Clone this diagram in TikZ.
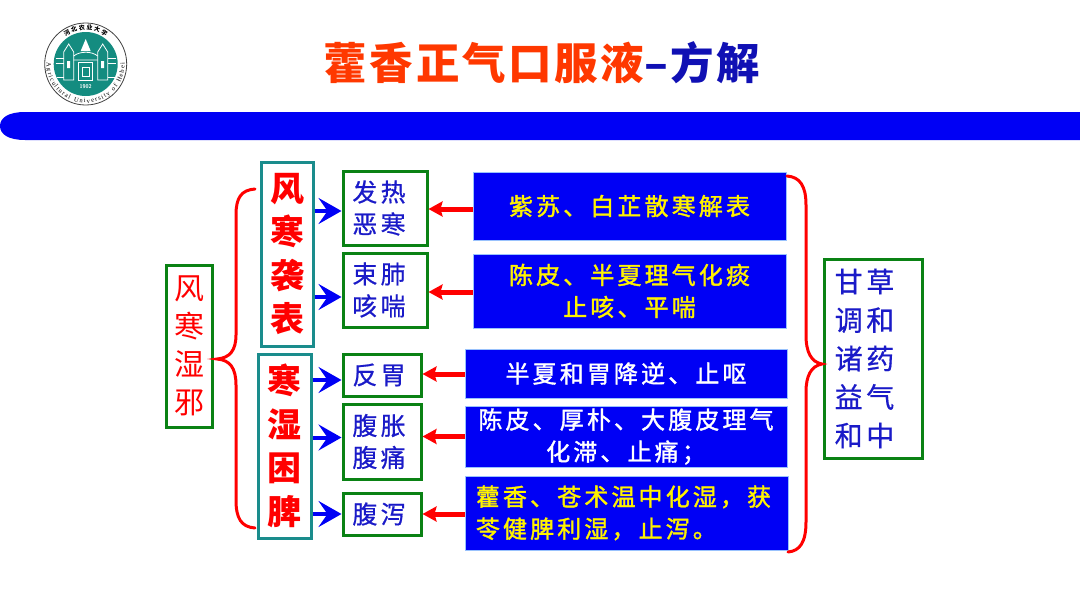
\documentclass[tikz,border=0pt]{standalone}
\usepackage{fontspec}
\usepackage{xcolor}
\usetikzlibrary{positioning,arrows.meta,decorations.text}
\newfontfamily\cjkplain{Noto Sans CJK SC}
\newfontfamily\cjkwide[LetterSpace=13,FakeBold=0.6]{Noto Sans CJK SC}
\newfontfamily\cjkherb[LetterSpace=13,FakeBold=1.5]{Noto Sans CJK SC}
\newfontfamily\cjktitle[LetterSpace=6]{Noto Sans CJK SC Black}
\newfontfamily\sealfont{Liberation Serif}
\newcommand{\rpad}[1]{\hspace*{#1pt}}
\definecolor{barblue}{HTML}{0000F5}
\definecolor{boxgreen}{HTML}{0A8214}
\definecolor{boxteal}{HTML}{1A8C8C}
\definecolor{inkblue}{HTML}{1A1AC8}
\definecolor{titlered}{HTML}{FF3800}
\definecolor{titleblue}{HTML}{1010B4}
\definecolor{sealteal}{HTML}{148C80}
\tikzset{
  greenbox/.style={draw=boxgreen,line width=3pt,fill=white,inner sep=0pt,align=center},
  tealbox/.style={draw=boxteal,line width=3pt,fill=white,inner sep=0pt,align=center,text=red,
    font=\cjkplain\bfseries\fontsize{34}{43.5}\selectfont},
  symptom/.style={greenbox,text=inkblue,font=\cjkwide\fontsize{25}{32}\selectfont},
  herbbox/.style={fill=barblue,draw=barblue!60!cyan!40,line width=0.6pt,inner sep=0pt,align=center,
    font=\cjkherb\fontsize{24}{32}\selectfont},
  bluearrow/.style={draw=barblue,line width=4pt,-{Stealth[length=23pt,width=26pt,inset=9pt]}},
  redarrow/.style={draw=red,line width=5pt,-{Stealth[length=14pt,width=15pt,inset=2pt]}},
  bracket/.style={draw=red,line width=3pt,line cap=round}
}
\begin{document}
\begin{tikzpicture}[x=1pt,y=-1pt]
\useasboundingbox (0,0) rectangle (1080,608);

\fill[barblue] (1080,112) -- (25,112) .. controls (8,112) and (0,118) .. (0,126) .. controls (0,134) and (8,140) .. (25,140) -- (1080,140) -- cycle;

\node[font=\cjktitle\fontsize{43.5}{50}\selectfont, anchor=center] (title) at (542,63) {\textcolor{titlered}{藿香正气口服液}\textcolor{titleblue}{–方解}};

\begin{scope}[shift={(85.7,64)},y=1pt]
\draw[line width=0.8pt,black!75,fill=white] (0,0) circle[radius=41];
\fill[sealteal] (0,0) circle[radius=32];
\draw[white,line width=0.8pt] (-17,20) -- (-22,12) -- (-22,-16) -- (-12,-16) -- (-12,12) -- cycle;
\draw[white,line width=0.8pt] (17,20) -- (22,12) -- (22,-16) -- (12,-16) -- (12,12) -- cycle;
\draw[white,line width=0.8pt] (-12,8) .. controls (-6,13) and (6,13) .. (12,8) (-12,4) -- (12,4);
\fill[white] (0,25) -- (5,13) -- (-5,13) -- cycle;
\draw[white,line width=0.8pt] (-7,-16) rectangle (7,2) (-3.5,-12) rectangle (3.5,-3);
\draw[white,line width=0.6pt] (-30,6) -- (-22,6) (-30,1) -- (-22,1) (-29,-13) -- (-22,-13) (30,6) -- (22,6) (30,1) -- (22,1) (29,-13) -- (22,-13);
\fill[white] (-18.5,-4) rectangle (-15.5,3) (15.5,-4) rectangle (18.5,3);
\node[text=white,font=\sffamily\bfseries\fontsize{5.5}{6}\selectfont] (sealyear) at (0,-22.5) {1902};
\path[decorate,decoration={text along path,text align=center,text={|\cjkplain\bfseries\fontsize{6}{7}\selectfont|河 北 农 业 大 学}}] (145:34) arc[start angle=145,end angle=35,radius=34];
\path[decorate,decoration={text along path,text align={fit to path},text={|\sealfont\fontsize{6.5}{8}\selectfont|Agricultural University of Hebei}}] (178:39) arc[start angle=178,end angle=362,radius=39];
\end{scope}

\node[greenbox,text=red,minimum width=46pt,minimum height=162pt,font=\cjkplain\fontsize{30}{38}\selectfont] (pathogen) at (189,346) {风\\寒\\湿\\邪};

\node[tealbox,minimum width=52pt,minimum height=184pt] (exterior) at (287,254) {风\\寒\\袭\\表};
\node[tealbox,minimum width=53pt,minimum height=184pt] (spleen) at (284.5,446) {寒\\湿\\困\\脾};

\node[symptom,minimum width=84pt,minimum height=74pt] (fever) at (385,208) {发热\rpad{12}\\恶寒\rpad{12}};
\node[symptom,minimum width=84pt,minimum height=74pt] (lung) at (385,290) {束肺\rpad{12}\\咳喘\rpad{12}};
\node[symptom,minimum width=78pt,minimum height=42pt] (stomach) at (382,375) {反胃\rpad{6}};
\node[symptom,minimum width=78pt,minimum height=75pt] (bloating) at (382,441.5) {腹胀\rpad{6}\\腹痛\rpad{6}};
\node[symptom,minimum width=78pt,minimum height=42pt] (diarrhea) at (382,514) {腹泻\rpad{6}};

\node[herbbox,text=yellow,minimum width=313pt,minimum height=68pt] (herbfever) at (629.5,206) {紫苏、白芷散寒解表};
\node[herbbox,text=yellow,minimum width=313pt,minimum height=74pt] (herblung) at (629.5,291) {陈皮、半夏理气化痰\\止咳、平喘};
\node[herbbox,text=white,minimum width=322pt,minimum height=49pt] (herbstomach) at (626,373.5) {半夏和胃降逆、止呕};
\node[herbbox,text=white,minimum width=322pt,minimum height=61pt] (herbbloating) at (626,436.5) {陈皮、厚朴、大腹皮理气\\化滞、止痛；};
\node[herbbox,text=yellow,minimum width=323pt,minimum height=74pt,align=left] (herbdiarrhea) at (626.5,513) {藿香、苍术温中化湿，获\rpad{6}\\苓健脾利湿，止泻。};

\node[greenbox,text=inkblue,minimum width=98pt,minimum height=199pt,align=left,font=\cjkwide\fontsize{28}{38.5}\selectfont] (licorice) at (873,358.5) {甘草\rpad{17}\\调和\\诸药\\益气\\和中};

\draw[bluearrow] ([yshift=-3pt]exterior.east |- fever.west) -- ([yshift=-3pt]fever.west);
\draw[bluearrow] ([yshift=-7pt]exterior.east |- lung.west) -- ([yshift=-7pt]lung.west);
\draw[bluearrow] ([yshift=-5pt]spleen.east |- stomach.west) -- ([yshift=-5pt]stomach.west);
\draw[bluearrow] ([yshift=4pt]spleen.east |- bloating.west) -- ([yshift=4pt]bloating.west);
\draw[bluearrow] (spleen.east |- diarrhea.west) -- (diarrhea.west);

\draw[redarrow] ([yshift=-1pt]herbfever.west |- fever.east) -- ([yshift=-1pt]fever.east);
\draw[redarrow] ([yshift=-2pt]herblung.west |- lung.east) -- ([yshift=-2pt]lung.east);
\draw[redarrow] ([yshift=1pt]herbstomach.west |- stomach.east) -- ([yshift=1pt]stomach.east);
\draw[redarrow] ([yshift=5pt]herbbloating.west |- bloating.east) -- ([yshift=5pt]bloating.east);
\draw[redarrow] (herbdiarrhea.west |- diarrhea.east) -- (diarrhea.east);

\draw[bracket] (255,189) .. controls (241,190) and (236,198) .. (236,215) -- (236,335) .. controls (236,350) and (230,358) .. (217,359) .. controls (230,360) and (236,368) .. (236,385) -- (236,500) .. controls (236,518) and (241,527) .. (255,528);
\draw[bracket] (787,176) .. controls (800,177) and (806,186) .. (806,205) -- (806,335) .. controls (806,352) and (811,362) .. (822,364) .. controls (811,366) and (806,376) .. (806,392) -- (806,522) .. controls (806,542) and (800,551) .. (788,552);
\end{tikzpicture}
\end{document}
